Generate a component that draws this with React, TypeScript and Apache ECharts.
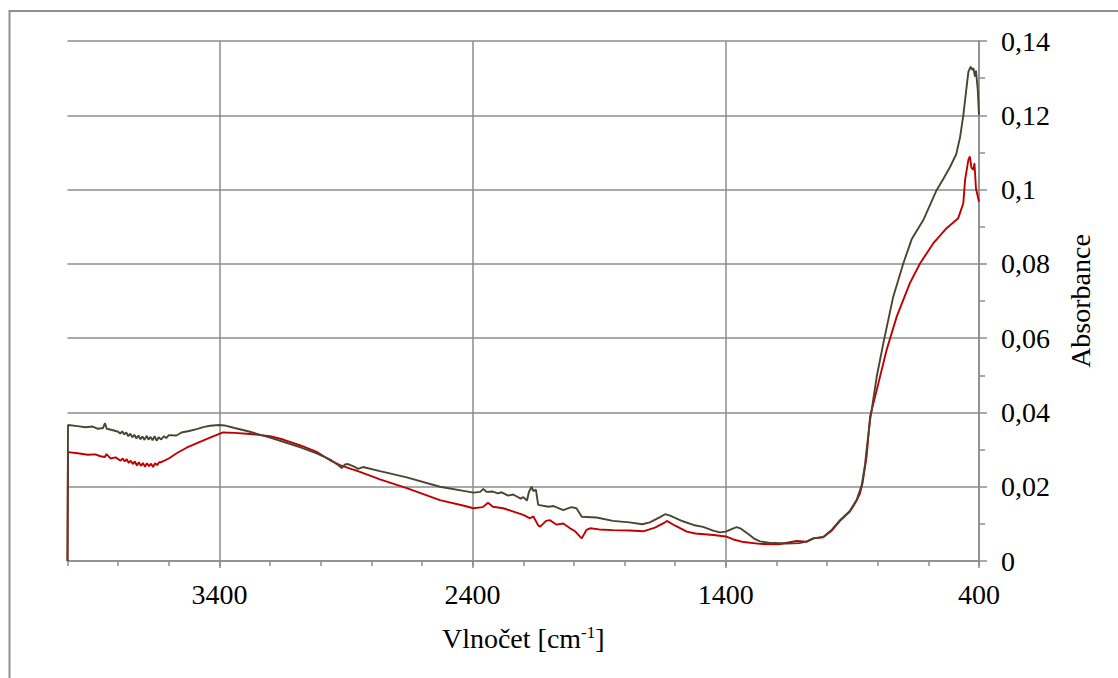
import React, { useEffect, useRef } from "react";
import * as echarts from "echarts";

// Wavenumbers (cm-1) and absorbances
const darkWn = [4000, 3998, 3960, 3930, 3900, 3880, 3860, 3852, 3845, 3820, 3800, 3792, 3784, 3776, 3768, 3760, 3752, 3744, 3736, 3728, 3720, 3712, 3704, 3696, 3688, 3680, 3672, 3664, 3656, 3648, 3640, 3630, 3620, 3610, 3600, 3570, 3550, 3520, 3490, 3460, 3437, 3400, 3380, 3340, 3279, 3200, 3148, 3080, 3016, 2960, 2930, 2917, 2904, 2892, 2870, 2853, 2833, 2766, 2660, 2529, 2430, 2397, 2370, 2358, 2345, 2320, 2300, 2285, 2260, 2240, 2210, 2200, 2185, 2178, 2167, 2160, 2150, 2141, 2100, 2080, 2042, 2010, 1990, 1975, 1969, 1910, 1846, 1780, 1730, 1700, 1660, 1640, 1620, 1570, 1528, 1490, 1450, 1423, 1400, 1370, 1357, 1340, 1310, 1290, 1265, 1230, 1160, 1110, 1081, 1054, 1015, 980, 949, 910, 883, 863, 850, 844, 830, 824, 804, 778, 739, 699, 666, 620, 567, 540, 515, 490, 475, 462, 455, 442, 433, 427, 422, 416, 412, 405, 400];
const darkAbs = [0, 0.0366, 0.0363, 0.036, 0.0362, 0.0356, 0.0358, 0.0371, 0.0356, 0.0352, 0.0348, 0.0343, 0.0349, 0.0341, 0.0346, 0.0336, 0.0343, 0.0333, 0.034, 0.033, 0.0338, 0.0328, 0.0335, 0.0326, 0.0337, 0.0327, 0.0334, 0.0325, 0.0336, 0.0324, 0.0333, 0.0327, 0.0336, 0.0331, 0.0339, 0.0338, 0.0346, 0.035, 0.0355, 0.0361, 0.0364, 0.0366, 0.0365, 0.0358, 0.0348, 0.0332, 0.0321, 0.0306, 0.029, 0.0272, 0.0258, 0.025, 0.026, 0.0261, 0.0255, 0.0248, 0.0253, 0.0242, 0.0225, 0.02, 0.0188, 0.0184, 0.0186, 0.0194, 0.0186, 0.0187, 0.0182, 0.0185, 0.0176, 0.0179, 0.0168, 0.0172, 0.0163, 0.0185, 0.02, 0.0188, 0.0192, 0.0151, 0.0146, 0.0148, 0.0137, 0.0145, 0.0142, 0.0126, 0.0119, 0.0117, 0.0108, 0.0104, 0.0099, 0.0104, 0.0118, 0.0126, 0.0122, 0.0107, 0.0097, 0.0092, 0.0082, 0.0077, 0.0079, 0.0088, 0.0091, 0.0087, 0.0072, 0.0061, 0.0053, 0.0049, 0.0047, 0.0048, 0.0052, 0.0061, 0.0065, 0.0085, 0.011, 0.0135, 0.0165, 0.0205, 0.026, 0.0299, 0.038, 0.0406, 0.0496, 0.0586, 0.0711, 0.0801, 0.0866, 0.0918, 0.0999, 0.103, 0.106, 0.1095, 0.114, 0.12, 0.1241, 0.1317, 0.1331, 0.1322, 0.1327, 0.1304, 0.132, 0.127, 0.1201];

const redWn = [4000, 3998, 3960, 3920, 3890, 3870, 3852, 3846, 3830, 3810, 3790, 3782, 3774, 3766, 3758, 3750, 3742, 3734, 3726, 3718, 3710, 3702, 3694, 3686, 3678, 3670, 3662, 3654, 3646, 3638, 3630, 3600, 3569, 3530, 3477, 3430, 3386, 3340, 3279, 3200, 3148, 3080, 3016, 2960, 2924, 2845, 2766, 2660, 2529, 2430, 2397, 2360, 2339, 2320, 2279, 2230, 2200, 2173, 2160, 2141, 2134, 2110, 2094, 2070, 2042, 2015, 1995, 1975, 1969, 1950, 1936, 1900, 1846, 1780, 1726, 1680, 1640, 1633, 1600, 1554, 1520, 1449, 1400, 1370, 1330, 1265, 1190, 1120, 1081, 1054, 1015, 980, 949, 910, 883, 870, 860, 844, 830, 804, 765, 725, 673, 633, 581, 528, 482, 462, 455, 442, 436, 430, 422, 418, 412, 400];
const redAbs = [0, 0.0293, 0.029, 0.0286, 0.0287, 0.0282, 0.028, 0.0288, 0.0276, 0.0279, 0.027, 0.0276, 0.0268, 0.0274, 0.0264, 0.027, 0.0261, 0.0268, 0.0257, 0.0266, 0.0256, 0.0264, 0.0254, 0.0263, 0.0255, 0.0262, 0.0253, 0.0263, 0.0258, 0.0266, 0.0266, 0.0276, 0.029, 0.0305, 0.0321, 0.0334, 0.0346, 0.0345, 0.0342, 0.0336, 0.0327, 0.0311, 0.0294, 0.027, 0.0258, 0.024, 0.022, 0.0196, 0.0164, 0.0148, 0.0142, 0.0145, 0.0157, 0.0146, 0.0142, 0.0131, 0.0124, 0.0115, 0.012, 0.0096, 0.0092, 0.0108, 0.011, 0.0098, 0.0101, 0.0088, 0.008, 0.0065, 0.0061, 0.0084, 0.0088, 0.0085, 0.0083, 0.0082, 0.008, 0.009, 0.0104, 0.0108, 0.0095, 0.0079, 0.0074, 0.007, 0.0066, 0.0058, 0.0051, 0.0046, 0.0045, 0.0054, 0.0052, 0.0061, 0.0064, 0.0083, 0.0108, 0.0133, 0.0163, 0.0182, 0.021, 0.0281, 0.0389, 0.046, 0.0568, 0.0658, 0.0748, 0.0801, 0.0855, 0.0896, 0.0923, 0.0963, 0.1026, 0.108, 0.1089, 0.1059, 0.1053, 0.1071, 0.1003, 0.0967];

const xMajorTicks = [3400, 2400, 1400, 400];

const FONT = "'Liberation Serif', 'Times New Roman', serif";
const GRID_COLOR = "#8c8c8c";

export default function App() {
  const ref = useRef<HTMLDivElement>(null);
  useEffect(() => {
    if (!ref.current) return;
    const chart = echarts.init(ref.current, null, { renderer: "svg" });
    const dark = darkWn.map((w, i) => [w, darkAbs[i]]);
    const red = redWn.map((w, i) => [w, redAbs[i]]);
    chart.setOption({
      animation: false,
      backgroundColor: "#ffffff",
      grid: { left: 67.5, right: 139, top: 41, bottom: 117 },
      graphic: [
        {
          type: "rect",
          shape: { x: 9.5, y: 11, width: 1300, height: 1000 },
          style: { fill: "none", stroke: "#8f8f8f", lineWidth: 2 },
          silent: true,
          z: -10,
        },
      ],
      xAxis: [
        {
          type: "value",
          min: 400,
          max: 4000,
          interval: 200,
          inverse: true,
          position: "bottom",
          axisLine: { show: true, lineStyle: { color: GRID_COLOR, width: 1.5 } },
          axisTick: { show: true, inside: false, length: 5, lineStyle: { color: GRID_COLOR, width: 1.5 } },
          axisLabel: { show: false },
          splitLine: { show: false },
        },
        {
          type: "value",
          min: 400,
          max: 4000,
          interval: 1000,
          inverse: true,
          position: "bottom",
          axisLine: { show: false },
          axisTick: { show: true, length: 7, lineStyle: { color: GRID_COLOR, width: 1.5 } },
          axisLabel: {
            show: true,
            showMaxLabel: false,
            margin: 19,
            fontSize: 28,
            fontFamily: FONT,
            color: "#000",
            formatter: (v: number) => (xMajorTicks.indexOf(v) >= 0 ? String(v) : ""),
          },
          splitLine: { show: true, showMaxLine: false, lineStyle: { color: GRID_COLOR, width: 1.5 } },
          name: "{a|Vlnočet [cm}{s|-1}{a|]}",
          nameLocation: "middle",
          nameGap: 63,
          nameTextStyle: {
            rich: {
              a: { fontSize: 28, fontFamily: FONT, color: "#000" },
              s: { fontSize: 17, fontFamily: FONT, color: "#000", verticalAlign: "top" },
            },
          },
        },
      ],
      yAxis: {
        type: "value",
        position: "right",
        min: 0,
        max: 0.14,
        interval: 0.02,
        axisLine: { show: true, lineStyle: { color: GRID_COLOR, width: 1.5 } },
        axisTick: { show: true, length: 8, lineStyle: { color: GRID_COLOR, width: 1.5 } },
        minorTick: { show: true, splitNumber: 2, length: 6, lineStyle: { color: GRID_COLOR, width: 1.5 } },
        axisLabel: {
          margin: 22,
          fontSize: 28,
          fontFamily: FONT,
          color: "#000",
          formatter: (v: number) => (v === 0 ? "0" : String(+v.toFixed(2)).replace(".", ",")),
        },
        splitLine: { show: true, lineStyle: { color: GRID_COLOR, width: 1.5 } },
        name: "Absorbance",
        nameLocation: "middle",
        nameRotate: 90,
        nameGap: 87,
        nameTextStyle: { fontSize: 28, fontFamily: FONT, color: "#000" },
      },
      series: [
        {
          type: "line",
          name: "red",
          xAxisIndex: 0,
          data: red,
          showSymbol: false,
          lineStyle: { color: "#c00000", width: 1.9 },
          itemStyle: { color: "#c00000" },
          z: 3,
        },
        {
          type: "line",
          name: "dark",
          xAxisIndex: 0,
          data: dark,
          showSymbol: false,
          lineStyle: { color: "#4a4531", width: 1.9 },
          itemStyle: { color: "#4a4531" },
          z: 4,
        },
      ],
    });
    return () => chart.dispose();
  }, []);
  return (
    <div
      ref={ref}
      style={{ position: "fixed", left: 0, top: 0, width: 1118, height: 678, background: "#fff" }}
    />
  );
}
